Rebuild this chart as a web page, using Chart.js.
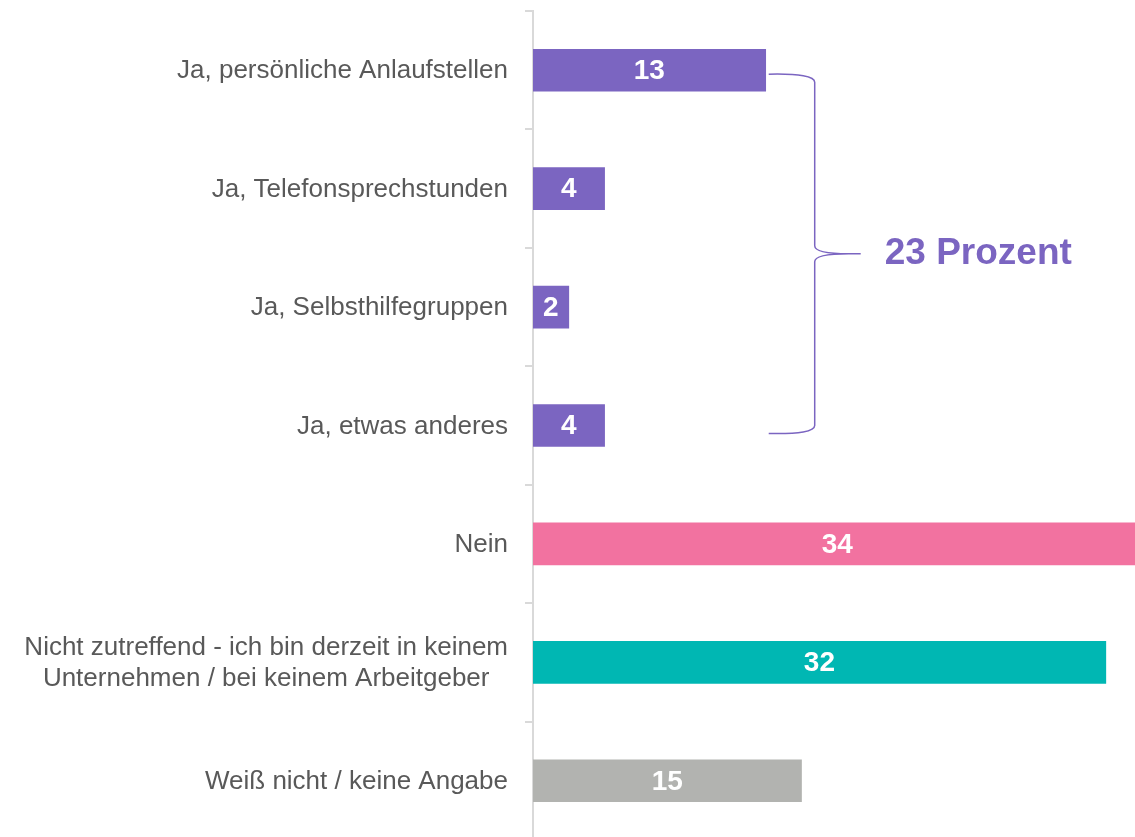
<!DOCTYPE html>
<html>
<head>
<meta charset="utf-8">
<script src="https://cdn.jsdelivr.net/npm/chart.js@4"></script>
<style>
  html, body { margin: 0; padding: 0; background: #fff; overflow: hidden; }
  #wrap { position: relative; width: 1135px; height: 840px; }
</style>
</head>
<body>
<div id="wrap"><canvas id="chart"></canvas></div>
<script>
// answer categories (multi-line label as array)
const categories = [
  'Ja, persönliche Anlaufstellen',
  'Ja, Telefonsprechstunden',
  'Ja, Selbsthilfegruppen',
  'Ja, etwas anderes',
  'Nein',
  ['Nicht zutreffend - ich bin derzeit in keinem', 'Unternehmen / bei keinem Arbeitgeber'],
  'Weiß nicht / keine Angabe'
];
const values = [13, 4, 2, 4, 34, 32, 15];
const barColors = ['#7b65c1', '#7b65c1', '#7b65c1', '#7b65c1', '#f272a0', '#00b7b3', '#b2b3b0'];
const braceLabel = '23 Prozent';
const braceFrom = 0; // first and last "Ja" rows
const braceTo = 3;

const labelFont = '26px "Liberation Sans", Arial, sans-serif';

const overlay = {
  id: 'overlay',
  afterDatasetsDraw(chart) {
    const ctx = chart.ctx;
    const xs = chart.scales.x;
    const ys = chart.scales.y;
    const bars = chart.getDatasetMeta(0).data;

    // category labels, right aligned block, lines centred inside it
    ctx.save();
    ctx.font = labelFont;
    ctx.fillStyle = '#595959';
    ctx.textAlign = 'center';
    ctx.textBaseline = 'middle';
    const right = chart.chartArea.left - 25;
    categories.forEach((c, i) => {
      const lines = Array.isArray(c) ? c : [c];
      const w = Math.max(...lines.map(l => ctx.measureText(l).width));
      const y = ys.getPixelForValue(i) + 1;
      const lh = 31;
      lines.forEach((l, j) => {
        ctx.fillText(l, right - w / 2, y + (j - (lines.length - 1) / 2) * lh);
      });
    });

    // values inside the bars
    ctx.font = 'bold 28px "Liberation Sans", Arial, sans-serif';
    ctx.fillStyle = '#ffffff';
    values.forEach((v, i) => {
      const x = (xs.getPixelForValue(0) + xs.getPixelForValue(v)) / 2;
      ctx.fillText(String(v), x, bars[i].y + 1);
    });

    // curly brace round the "Ja" rows
    const top = bars[braceFrom].y + 4;
    const bot = bars[braceTo].y + 8;
    const x0 = bars[braceFrom].x + 3;
    const xm = x0 + 46;
    const xt = x0 + 92;
    const mid = (top + bot) / 2;
    ctx.strokeStyle = '#7b65c1';
    ctx.lineWidth = 1.5;
    ctx.beginPath();
    ctx.moveTo(x0, top);
    ctx.quadraticCurveTo(xm, top - 1, xm, top + 8);
    ctx.lineTo(xm, mid - 8);
    ctx.quadraticCurveTo(xm, mid, xt - 12, mid);
    ctx.lineTo(xt, mid);
    ctx.moveTo(xt - 12, mid);
    ctx.quadraticCurveTo(xm, mid, xm, mid + 8);
    ctx.lineTo(xm, bot - 8);
    ctx.quadraticCurveTo(xm, bot + 1, x0, bot);
    ctx.stroke();

    ctx.font = 'bold 37px "Liberation Sans", Arial, sans-serif';
    ctx.fillStyle = '#7b65c1';
    ctx.textAlign = 'left';
    ctx.fillText(braceLabel, xt + 24, mid);
    ctx.restore();
  }
};

new Chart(document.getElementById('chart'), {
  type: 'bar',
  data: {
    labels: categories,
    datasets: [{
      data: values,
      backgroundColor: barColors,
      barThickness: 42
    }]
  },
  options: {
    indexAxis: 'y',
    responsive: true,
    maintainAspectRatio: false,
    animation: false,
    layout: { padding: { top: 11, right: 0, bottom: 0, left: 0 } },
    plugins: {
      legend: { display: false },
      tooltip: { enabled: false }
    },
    scales: {
      x: {
        display: false,
        min: 0,
        max: 33.63
      },
      y: {
        afterFit(scale) { scale.width = 533; },
        ticks: { display: false },
        grid: {
          drawOnChartArea: false,
          drawTicks: true,
          tickLength: 8,
          color: '#d9d9d9',
          lineWidth: 2
        },
        border: { color: '#d9d9d9', width: 2 }
      }
    }
  },
  plugins: [overlay]
});
</script>
</body>
</html>
